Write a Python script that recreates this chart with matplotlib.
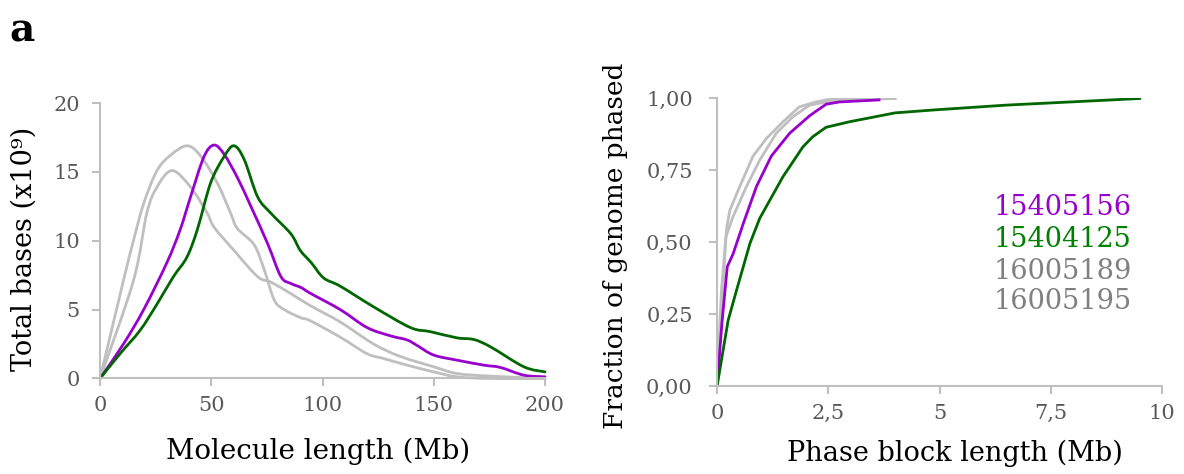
import matplotlib
matplotlib.use('Agg')
import matplotlib.pyplot as plt
from matplotlib.path import Path
from matplotlib.patches import PathPatch

plt.rcParams['font.family'] = ['DejaVu Serif']

# sample names and colours
samples = ['15405156', '15404125', '16005189', '16005195']
line_colors = ['#9900CC', '#006600', '#BFBFBF', '#BFBFBF']
text_colors = ['#9900CC', '#008000', '#808080', '#808080']

# panel a, left: molecule length distribution (x in Mb, y in 1e9 bases)
mol_x_15405156 = [0, 10.5, 19.6, 30, 36, 40.7, 46.7, 51.2, 55.7, 61.7, 67.8, 75.3, 81.3, 85.8,
                  90.4, 94.4, 108, 120, 130.5, 138, 142.5, 150, 160.5, 172.5, 180, 190.5, 200]
mol_y_15405156 = [0, 2.5, 5.0, 8.4, 10.8, 13.2, 16.1, 16.95, 16.3, 14.6, 12.5, 9.8, 7.4, 6.9,
                  6.6, 6.2, 5.0, 3.7, 3.1, 2.8, 2.4, 1.7, 1.33, 0.97, 0.8, 0.24, 0.12]

mol_x_15404125 = [0, 9, 18, 25.6, 33, 39, 43.7, 49.7, 55.7, 60.2, 64.8, 70.8, 76.8, 85.8, 90,
                  95, 100.5, 108, 123, 139.5, 148.5, 160.5, 168, 175.5, 190.5, 200]
mol_y_15404125 = [0, 1.8, 3.5, 5.4, 7.4, 8.8, 10.8, 14.2, 16.1, 16.9, 15.9, 13.2, 12.0, 10.5, 9.3,
                  8.4, 7.3, 6.7, 5.2, 3.7, 3.4, 2.95, 2.83, 2.3, 0.85, 0.48]

mol_x_16005189 = [0, 10.5, 15, 19.6, 25.6, 31.6, 39, 45, 52.7, 58.7, 61.7, 69.3, 73.8, 78.3,
                  82.8, 90.4, 94.4, 108, 120, 127.5, 138, 150, 160.5, 175.5, 200]
mol_y_16005189 = [0, 7.1, 10.0, 12.7, 15.1, 16.2, 16.9, 16.2, 14.2, 12.0, 10.9, 9.7, 7.9, 5.7,
                  5.0, 4.4, 4.2, 3.0, 1.8, 1.45, 0.97, 0.48, 0.12, 0, 0]

mol_x_16005195 = [0, 15, 21, 25.6, 32.4, 40.7, 48.2, 51.2, 60.2, 70.8, 76.8, 85.4, 94.4, 108,
                  123, 135, 150, 160.5, 175.5, 200]
mol_y_16005195 = [0, 7.1, 12, 13.9, 15.1, 13.9, 12.0, 11.0, 9.3, 7.4, 7.0, 6.2, 5.3, 4.1,
                  2.5, 1.6, 0.85, 0.36, 0.17, 0]

# panel a, right: cumulative fraction phased vs phase block length (Mb)
ph_x_15405156 = [0, 0.11, 0.23, 0.36, 0.59, 0.885, 1.22, 1.63, 2.08, 2.45, 2.75, 3.64]
ph_y_15405156 = [0, 0.22, 0.416, 0.46, 0.566, 0.694, 0.80, 0.879, 0.94, 0.98, 0.988, 0.995]

ph_x_15404125 = [0, 0.25, 0.44, 0.74, 0.96, 1.48, 1.93, 2.15, 2.45, 2.97, 4.0, 4.85, 6.5, 8.2, 9.5]
ph_y_15404125 = [0, 0.23, 0.335, 0.497, 0.584, 0.728, 0.832, 0.867, 0.90, 0.919, 0.95, 0.96,
                 0.977, 0.99, 1.0]

ph_x_16005189 = [0, 0.1, 0.22, 0.29, 0.51, 0.81, 1.11, 1.48, 1.85, 2.22, 2.52, 4.0]
ph_y_16005189 = [0, 0.335, 0.555, 0.613, 0.694, 0.80, 0.861, 0.919, 0.971, 0.988, 0.997, 1.0]

ph_x_16005195 = [0, 0.2, 0.36, 0.66, 0.96, 1.33, 1.7, 2.08, 2.45, 3.34, 4.0]
ph_y_16005195 = [0, 0.52, 0.59, 0.694, 0.786, 0.879, 0.936, 0.977, 0.988, 0.997, 1.0]

mol_xticks = [0, 50, 100, 150, 200]
mol_yticks = [0, 5, 10, 15, 20]
ph_xticks = [0, 2.5, 5, 7.5, 10]
ph_xlabels = ['0', '2,5', '5', '7,5', '10']
ph_yticks = [0, 0.25, 0.5, 0.75, 1.0]
ph_ylabels = ['0,00', '0,25', '0,50', '0,75', '1,00']

axis_gray = '#BFBFBF'
tick_gray = '#595959'


def smooth_line(ax, xs, ys, color):
    # excel-style smoothed line: bezier segments through the points (catmull-rom handles)
    n = len(xs)
    verts = [(xs[0], ys[0])]
    codes = [Path.MOVETO]
    for i in range(n - 1):
        x0, y0 = xs[max(i - 1, 0)], ys[max(i - 1, 0)]
        x1, y1 = xs[i], ys[i]
        x2, y2 = xs[i + 1], ys[i + 1]
        x3, y3 = xs[min(i + 2, n - 1)], ys[min(i + 2, n - 1)]
        c1 = (x1 + (x2 - x0) / 6, y1 + (y2 - y0) / 6)
        c2 = (x2 - (x3 - x1) / 6, y2 - (y3 - y1) / 6)
        verts += [c1, c2, (x2, y2)]
        codes += [Path.CURVE4] * 3
    patch = PathPatch(Path(verts, codes), facecolor='none', edgecolor=color, lw=2,
                      transform=ax.transData, capstyle='round', joinstyle='round')
    patch.set_clip_on(False)
    ax.add_patch(patch)


def style_axes(ax):
    for side in ['top', 'right']:
        ax.spines[side].set_visible(False)
    for side in ['left', 'bottom']:
        ax.spines[side].set_color(axis_gray)
        ax.spines[side].set_linewidth(1.5)
    ax.tick_params(axis='both', colors=axis_gray, labelcolor=tick_gray,
                   labelsize=15, length=5.5, width=1.5, direction='out')
    ax.tick_params(axis='y', pad=9)
    ax.tick_params(axis='x', pad=7)


fig = plt.figure(figsize=(11.84, 4.74), dpi=100)

ax1 = fig.add_axes([0.0845, 0.2015, 0.3758, 0.581])
smooth_line(ax1, mol_x_16005189, mol_y_16005189, line_colors[2])
smooth_line(ax1, mol_x_16005195, mol_y_16005195, line_colors[3])
smooth_line(ax1, mol_x_15405156, mol_y_15405156, line_colors[0])
smooth_line(ax1, mol_x_15404125, mol_y_15404125, line_colors[1])
ax1.set_xlim(0, 200)
ax1.set_ylim(0, 20)
ax1.set_xticks(mol_xticks)
ax1.set_yticks(mol_yticks)
style_axes(ax1)
ax1.set_xlabel('Molecule length (Mb)', fontsize=20)
ax1.xaxis.set_label_coords(0.49, -0.215)
ax1.set_ylabel('Total bases (x10⁹)', fontsize=19.5)
ax1.yaxis.set_label_coords(-0.14, 0.47)

ax2 = fig.add_axes([0.6056, 0.1846, 0.3758, 0.6076])
ax2.plot(ph_x_16005189, ph_y_16005189, color=line_colors[2], lw=2)
ax2.plot(ph_x_16005195, ph_y_16005195, color=line_colors[3], lw=2)
ax2.plot(ph_x_15405156, ph_y_15405156, color=line_colors[0], lw=2)
ax2.plot(ph_x_15404125, ph_y_15404125, color=line_colors[1], lw=2)
ax2.set_xlim(0, 10)
ax2.set_ylim(0, 1)
ax2.set_xticks(ph_xticks)
ax2.set_xticklabels(ph_xlabels)
ax2.set_yticks(ph_yticks)
ax2.set_yticklabels(ph_ylabels)
style_axes(ax2)
ax2.tick_params(axis='y', pad=12)
ax2.set_xlabel('Phase block length (Mb)', fontsize=19.5)
ax2.xaxis.set_label_coords(0.535, -0.186)
ax2.set_ylabel('Fraction of genome phased', fontsize=19)
ax2.yaxis.set_label_coords(-0.2, 0.49)

# coloured sample names as legend
legend_y = [0.62, 0.509, 0.401, 0.294]
for name, col, yy in zip(samples, text_colors, legend_y):
    ax2.text(0.622, yy, name, color=col, fontsize=19.5, transform=ax2.transAxes,
             ha='left', va='center')

fig.text(0.008, 0.935, 'a', fontsize=28, fontweight='bold', ha='left', va='center')

fig.savefig('out.png', dpi=100)
